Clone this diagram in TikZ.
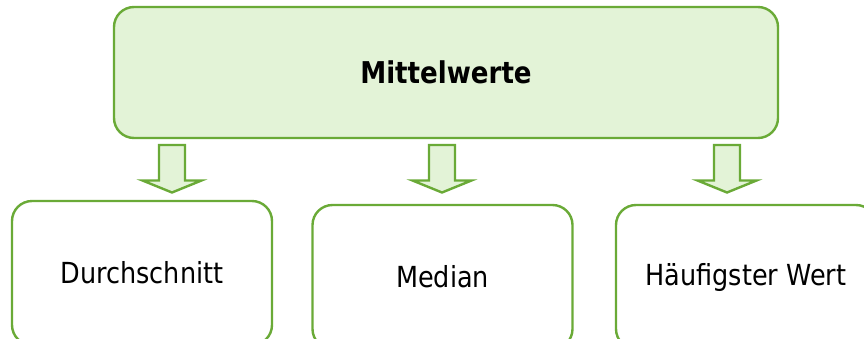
\documentclass[tikz,border=0pt]{standalone}
\usepackage{fontspec}
\newfontfamily\regf[FakeStretch=0.88]{DejaVu Sans}
\newfontfamily\boldf[FakeStretch=0.87]{DejaVu Sans Bold}
\definecolor{gstroke}{HTML}{6AAA37}
\definecolor{gfill}{HTML}{E3F3D7}
\tikzset{
  topbox/.style={draw=gstroke, fill=gfill, line width=2.4pt, rounded corners=20pt,
    minimum width=664pt, minimum height=131pt, inner sep=0pt,
    font=\boldf\fontsize{30}{35}\selectfont},
  subbox/.style={draw=gstroke, fill=white, line width=2.4pt, rounded corners=20pt,
    minimum width=260pt, minimum height=144pt, inner sep=0pt,
    font=\regf\fontsize{29}{34}\selectfont},
  blockarrow/.style={draw=gstroke, fill=gfill, line width=2.4pt, line join=miter}
}
\newcommand\blockarr[2]{%
  \draw[blockarrow, shift={(#1)}] (-13pt,0pt) -- (13pt,0pt) -- (13pt,-35.5pt) -- (29.5pt,-35.5pt)
     -- (0pt,-47.5pt) -- (-29.5pt,-35.5pt) -- (-13pt,-35.5pt) -- cycle;}
\begin{document}
\begin{tikzpicture}[x=1pt,y=-1pt]
\useasboundingbox (0,0) rectangle (864,338);
\clip (0,0) rectangle (864,338);
\node[topbox] (top) at (446,72.5) {Mittelwerte};
\node[subbox] (d) at (142,273) {Durchschnitt};
\node[subbox] (m) at (442.5,277) {Median};
\node[subbox] (h) at (746,277) {Häufigster Wert};
\coordinate (a1) at (172,145);
\coordinate (a2) at (442,145);
\coordinate (a3) at (727,145);
\blockarr{a1}{d}
\blockarr{a2}{m}
\blockarr{a3}{h}
\end{tikzpicture}
\end{document}
